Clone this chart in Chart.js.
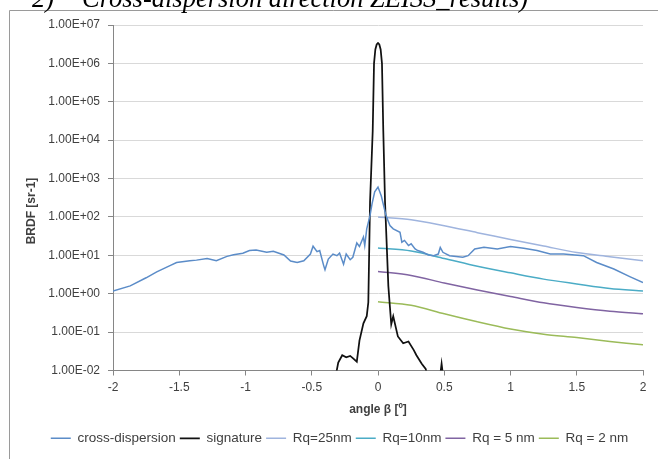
<!DOCTYPE html>
<html>
<head>
<meta charset="utf-8">
<script src="https://cdn.jsdelivr.net/npm/chart.js"></script>
<style>
  body { margin: 0; background: #fff; }
  #chart { position: absolute; left: 0; top: 0; }
</style>
</head>
<body>
<canvas id="chart" width="658" height="459"></canvas>
<script>

/* DATA */

const crossX = [-2.0, -1.87, -1.75, -1.67, -1.57, -1.52, -1.42, -1.37, -1.29, -1.22, -1.14, -1.09, -1.02, -0.97, -0.92,
  -0.84, -0.79, -0.71, -0.66, -0.61, -0.56, -0.51, -0.49, -0.46, -0.44, -0.41, -0.40, -0.375, -0.34, -0.31,
  -0.29, -0.26, -0.24, -0.21, -0.19, -0.16, -0.14, -0.11, -0.10, -0.085, -0.06, -0.045, -0.025, 0, 0.025,
  0.06, 0.09, 0.115, 0.166, 0.18, 0.20, 0.23, 0.25, 0.28, 0.30, 0.34, 0.38, 0.42, 0.455, 0.47,
  0.49, 0.54, 0.64, 0.68, 0.73, 0.80, 0.90, 1.0, 1.10, 1.20, 1.30, 1.40, 1.55, 1.65, 1.78, 1.90, 2.0];
const crossY = [1.18, 1.6, 2.6, 3.7, 5.4, 6.5, 7.2, 7.5, 8.3, 7.2, 9.4, 10.4, 11.3, 13.3, 13.8,
  12, 12.7, 10.2, 7.1, 6.5, 7.2, 10.8, 17.3, 12.5, 13.3, 5.4, 4.2, 8.0, 10.8, 9.8,
  11.5, 5.9, 10.8, 7.7, 8.9, 21, 17, 30, 18, 49, 110, 220, 450, 600, 350,
  110, 60, 49, 40, 22, 24.5, 18, 20, 14.7, 13.3, 12, 10.2, 9.8, 10.8, 16,
  12, 9.8, 8.9, 9.8, 14.7, 16.2, 14.7, 17, 15.3, 13.3, 10.8, 10.8, 9.8, 6.5, 4.4, 2.8, 1.95];

const sigX = [-0.42, -0.32, -0.30, -0.27, -0.24, -0.21, -0.19, -0.16, -0.14, -0.11, -0.085, -0.073, -0.06, -0.04,
  -0.03, -0.02, -0.01, 0, 0.01, 0.02, 0.03, 0.04, 0.053, 0.078, 0.09, 0.10, 0.115, 0.15, 0.19,
  0.23, 0.27, 0.29, 0.33, 0.36, 0.39, 0.46, 0.48, 0.50];
const sigY = [0.002, 0.007, 0.016, 0.025, 0.022, 0.024, 0.021, 0.017, 0.06, 0.17, 0.26, 0.6, 250, 17000,
  1e6, 2.3e6, 3.1e6, 3.4e6, 3.1e6, 2.3e6, 1e6, 17000, 250, 1.6, 0.45, 0.16, 0.26, 0.077, 0.051,
  0.057, 0.034, 0.025, 0.015, 0.011, 0.004, 0.004, 0.015, 0.004];

const rqX = [0, 0.25, 0.5, 0.75, 1, 1.25, 1.5, 1.75, 2];
const rq25 = [100, 85, 59, 39, 26, 17.5, 11.8, 9.2, 7.2];
const rq10 = [15.5, 13, 8.3, 5.2, 3.5, 2.4, 1.8, 1.37, 1.18];
const rq5 = [3.8, 3.0, 1.9, 1.25, 0.85, 0.58, 0.44, 0.35, 0.30];
const rq2 = [0.62, 0.5, 0.30, 0.185, 0.12, 0.088, 0.072, 0.057, 0.047];

const yTicks = [0.01, 0.1, 1, 10, 100, 1e3, 1e4, 1e5, 1e6, 1e7];
const yTickLabels = ["1.00E-02", "1.00E-01", "1.00E+00", "1.00E+01", "1.00E+02",
  "1.00E+03", "1.00E+04", "1.00E+05", "1.00E+06", "1.00E+07"];

/* HELPERS */

function pts(xs, ys){
    return xs.map((x, i) => ({x: x, y: ys[i]}));
}

function line(label, xs, ys, color, width, tension){
    return {
        label: label,
        data: pts(xs, ys),
        borderColor: color,
        backgroundColor: color,
        borderWidth: width,
        pointRadius: 0,
        tension: tension
    };
}

const FONT = "'Liberation Sans', Arial, sans-serif";
const TEXT = "#404040";

/* FRAME, PAGE TITLE, Y TITLE */

const decor = {
    id: "decor",
    beforeDraw(chart){
        const ctx = chart.ctx;
        ctx.save();
        ctx.strokeStyle = "#9a9a9a";
        ctx.lineWidth = 1;
        ctx.beginPath();
        ctx.moveTo(9.5, 459);
        ctx.lineTo(9.5, 10.5);
        ctx.lineTo(658, 10.5);
        ctx.stroke();
        ctx.fillStyle = "#000";
        ctx.font = "italic 26.5px 'Liberation Serif', 'Times New Roman', serif";
        ctx.textBaseline = "alphabetic";
        ctx.fillText("2)", 32, 6.5);
        ctx.fillText("Cross-dispersion direction ZEISS_results)", 82, 6.5);
        ctx.restore();
    },
    afterDraw(chart){
        const ctx = chart.ctx;
        ctx.save();
        ctx.translate(32, 211);
        ctx.rotate(-Math.PI / 2);
        ctx.fillStyle = TEXT;
        ctx.font = "bold 12px " + FONT;
        ctx.textAlign = "center";
        ctx.textBaseline = "middle";
        ctx.fillText("BRDF [sr-1]", 0, 0);
        ctx.restore();
    }
};

/* CHART */

new Chart(document.getElementById("chart"), {
    type: "line",
    data: {
        datasets: [
            line("cross-dispersion", crossX, crossY, "#5b8cc8", 1.5, 0),
            line("signature", sigX, sigY, "#111111", 1.75, 0),
            line("Rq=25nm", rqX, rq25, "#9fb4de", 1.5, 0.3),
            line("Rq=10nm", rqX, rq10, "#4bacc6", 1.5, 0.3),
            line("Rq = 5 nm", rqX, rq5, "#8064a2", 1.5, 0.3),
            line("Rq = 2 nm", rqX, rq2, "#9bbb59", 1.5, 0.3)
        ]
    },
    options: {
        responsive: false,
        animation: false,
        layout: { padding: { left: 36, right: 15, top: 25, bottom: 4 } },
        plugins: {
            legend: {
                position: "bottom",
                labels: {
                    usePointStyle: true,
                    pointStyle: "line",
                    pointStyleWidth: 20,
                    boxWidth: 20,
                    padding: 4,
                    color: TEXT,
                    font: { family: FONT, size: 13.5 }
                }
            },
            tooltip: { enabled: false }
        },
        scales: {
            x: {
                type: "linear",
                min: -2,
                max: 2,
                ticks: {
                    stepSize: 0.5,
                    maxRotation: 0,
                    padding: 5,
                    color: TEXT,
                    font: { family: FONT, size: 12 },
                    callback: v => String(v)
                },
                grid: { drawOnChartArea: false, tickLength: 5, color: "#868686" },
                border: { color: "#868686" },
                title: {
                    display: true,
                    text: "angle β [º]",
                    color: TEXT,
                    font: { family: FONT, size: 12, weight: "bold" },
                    padding: { top: 0, bottom: 11 }
                },
                afterFit: s => { s.height = 57; }
            },
            y: {
                type: "logarithmic",
                min: 0.01,
                max: 1e7,
                afterBuildTicks: s => { s.ticks = yTicks.map(v => ({ value: v })); },
                ticks: {
                    padding: 8,
                    color: TEXT,
                    font: { family: FONT, size: 12 },
                    callback: v => yTickLabels[yTicks.indexOf(v)]
                },
                grid: { color: "#d9d9d9", tickLength: 5, tickColor: "#868686" },
                border: { color: "#868686" },
                afterFit: s => { s.width = 77; }
            }
        }
    },
    plugins: [decor]
});

</script>
</body>
</html>
